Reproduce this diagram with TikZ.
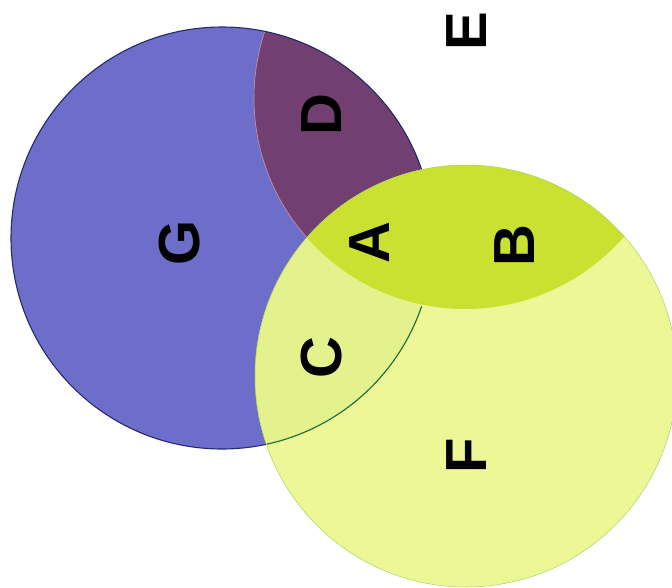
\documentclass[tikz,border=0pt]{standalone}
\usepackage{fontspec}
\setmainfont{Liberation Sans}
\definecolor{gblue}{RGB}{108,110,202}
\definecolor{gline}{RGB}{40,40,110}
\definecolor{dpurple}{RGB}{114,64,112}
\definecolor{dline}{RGB}{200,150,170}
\definecolor{fyellow}{RGB}{238,247,150}
\definecolor{fline}{RGB}{170,210,100}
\definecolor{abgreen}{RGB}{203,225,50}
\definecolor{cyellow}{RGB}{228,242,142}
\definecolor{arcgreen}{RGB}{35,115,60}
\tikzset{
  lbl/.style={inner sep=0pt, rotate=90, font=\fontsize{58}{58}\selectfont\bfseries, text=black}
}
\begin{document}
\begin{tikzpicture}[x=1pt,y=1pt]
\useasboundingbox (0,0) rectangle (672,-587);
\clip (0,0) rectangle (672,-587);
\fill[white] (0,0) rectangle (672,-587);
\coordinate (Gc) at (222,-238);
\coordinate (Fc) at (466,-376);
\coordinate (Ec) at (465,-98);
% G circle
\fill[gblue] (Gc) circle (211);
% D = G and E
\begin{scope}
  \clip (Gc) circle (211);
  \fill[dpurple] (Ec) circle (211);
  \draw[dline, line width=0.6pt] (Ec) circle (211);
\end{scope}
\draw[gline, line width=1.1pt] (Gc) circle (211);
% F circle
\fill[fyellow] (Fc) circle (211);
\begin{scope}
  \clip (Fc) circle (211);
  \fill[cyellow] (Gc) circle (211);
  \fill[abgreen] (Ec) circle (211);
\end{scope}
\draw[fline, line width=0.5pt] (Fc) circle (211);
% G outline visible through F (outside E)
\draw[arcgreen, line width=1.2pt] (Gc) ++(-18.9:211) arc[start angle=-18.9, end angle=-77.7, radius=211];
% labels
\node[lbl] (E) at (467,-31) {E};
\node[lbl] (D) at (322,-115) {D};
\node[lbl] (G) at (180,-243) {G};
\node[lbl] (A) at (370,-243) {A};
\node[lbl] (B) at (515,-246) {B};
\node[lbl] (C) at (322,-358) {C};
\node[lbl] (F) at (467,-456) {F};
\end{tikzpicture}
\end{document}
